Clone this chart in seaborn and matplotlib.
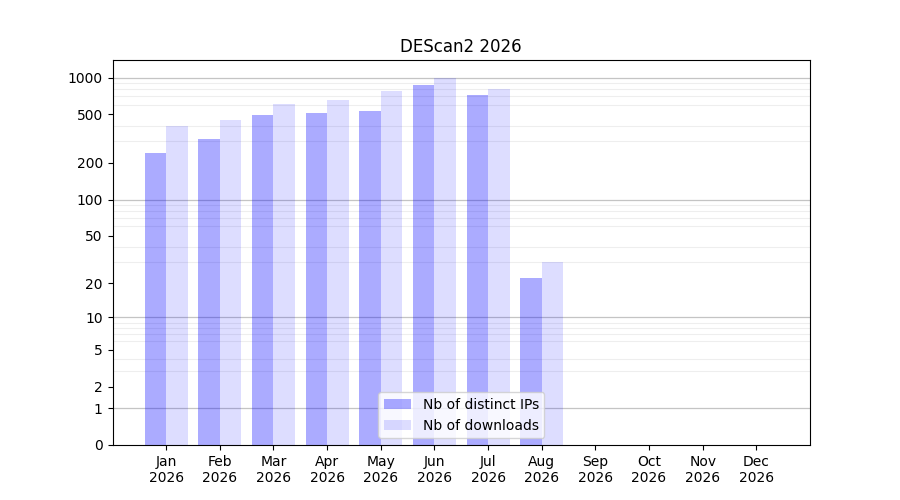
import numpy as np
import pandas as pd
import matplotlib
matplotlib.use('Agg')
import matplotlib.pyplot as plt
import seaborn as sns

# Monthly stats (Sep-Dec have no data yet)
months = ['Jan', 'Feb', 'Mar', 'Apr', 'May', 'Jun', 'Jul', 'Aug', 'Sep', 'Oct', 'Nov', 'Dec']
year = '2026'
distinct_ips = [240, 312, 491, 511, 531, 864, 717, 22, 0, 0, 0, 0]
downloads = [399, 447, 604, 653, 773, 993, 802, 30, 0, 0, 0, 0]
series_names = ['Nb of distinct IPs', 'Nb of downloads']
yticks = [0, 1, 2, 5, 10, 20, 50, 100, 200, 500, 1000]

labels = [f'{m}\n{year}' for m in months]
df = pd.DataFrame({
    'month': labels * 2,
    'value': distinct_ips + downloads,
    'series': [series_names[0]] * len(months) + [series_names[1]] * len(months),
})

fig, ax = plt.subplots(figsize=(9, 5), dpi=100)

# log10(1 + x) scale so that zero stays on the axis
ax.set_yscale('function', functions=(lambda v: np.log10(1 + np.clip(v, 0, None)),
                                     lambda v: 10 ** v - 1))

sns.barplot(data=df, x='month', y='value', hue='series', order=labels,
            hue_order=series_names, palette=['blue', 'blue'], saturation=1,
            width=0.8, legend=False, ax=ax)

for cont, a in zip(ax.containers, [0.33, 0.135]):
    for p in cont.patches:
        p.set_alpha(a)
        p.set_edgecolor('none')

ax.set_yticks(yticks)
ax.set_yticklabels([str(t) for t in yticks])

# light grid at 2..9 of each decade, darker at the decades
minor = [k * 10 ** d for d in range(0, 4) for k in range(2, 10)]
ax.set_yticks(minor, minor=True)
ax.tick_params(axis='y', which='minor', length=0)
ax.grid(True, axis='y', which='minor', color='#eeeeee', linewidth=0.8)
for d in [1, 10, 100, 1000]:
    ax.axhline(d, color='#c4c4c4', linewidth=0.9, zorder=0.5)
ax.set_axisbelow(True)

ax.set_xlim(-1, len(months))
ax.set_ylim(0, max(downloads) * 1.4)

ax.set_xlabel('')
ax.set_ylabel('')
ax.set_title(f'DEScan2 {year}')
ax.legend(ax.containers, series_names, loc='lower center')

plt.savefig('out.png', dpi=100)
plt.close()
